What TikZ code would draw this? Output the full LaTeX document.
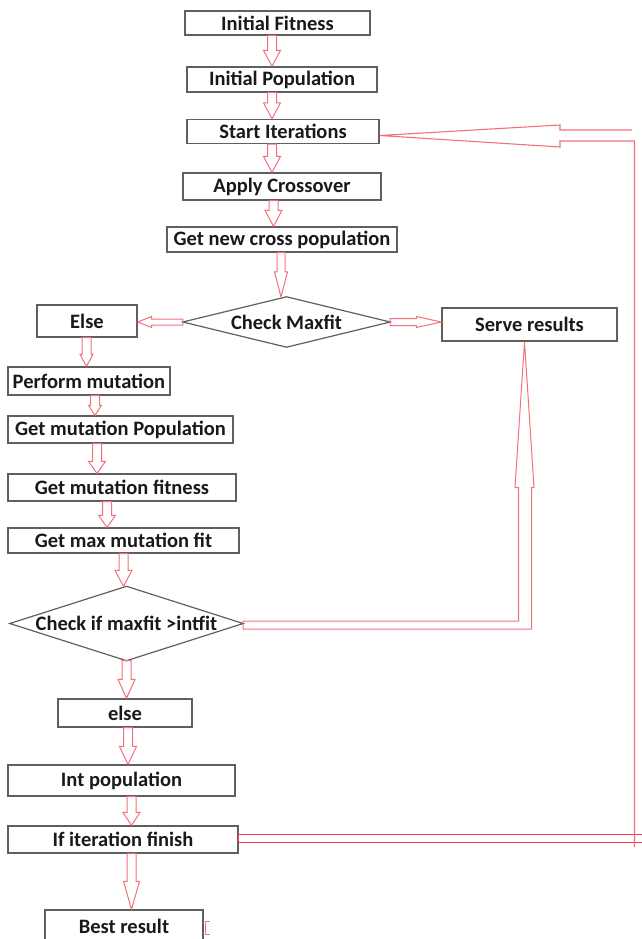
\documentclass[tikz,border=0pt]{standalone}
\usepackage{fontspec}
\setmainfont{Carlito}
\usetikzlibrary{calc}
\definecolor{boxgray}{RGB}{95,95,95}
\definecolor{arrred}{RGB}{242,112,122}
\definecolor{loopred}{RGB}{236,62,78}
\definecolor{txt}{RGB}{25,25,25}
\tikzset{
  arrsw/.store in=\arrsw, arrhw/.store in=\arrhw, arrhl/.store in=\arrhl,
  arrsw=4.5pt, arrhw=8.5pt, arrhl=16pt,
  blk/.style={draw=arrred, line width=1pt, line join=miter},
  box/.style={draw=boxgray, line width=1.3pt, inner sep=0pt, text=txt,
    font=\bfseries\fontsize{20.5}{23}\selectfont},
  dnode/.style={inner sep=0pt, text=txt, font=\bfseries\fontsize{20.5}{23}\selectfont},
  dline/.style={draw=boxgray, line width=1.2pt, line join=miter}
}
% vertical block arrow: start point, target (only its y is used)
\newcommand{\dnarrow}[3][]{%
  \path[blk,#1] let \p1=(#2), \p2=(#3) in
    (\x1-\arrsw,\y1) -- (\x1-\arrsw,\y2+\arrhl) -- (\x1-\arrhw,\y2+\arrhl) -- (\x1,\y2)
    -- (\x1+\arrhw,\y2+\arrhl) -- (\x1+\arrsw,\y2+\arrhl) -- (\x1+\arrsw,\y1) -- cycle;}
% horizontal block arrows: start point, target (only its x is used)
\newcommand{\lfarrow}[3][]{%
  \path[blk,#1] let \p1=(#2), \p2=(#3) in
    (\x1,\y1+\arrsw) -- (\x2+\arrhl,\y1+\arrsw) -- (\x2+\arrhl,\y1+\arrhw) -- (\x2,\y1)
    -- (\x2+\arrhl,\y1-\arrhw) -- (\x2+\arrhl,\y1-\arrsw) -- (\x1,\y1-\arrsw) -- cycle;}
\newcommand{\rtarrow}[3][]{%
  \path[blk,#1] let \p1=(#2), \p2=(#3) in
    (\x1,\y1+\arrsw) -- (\x2-\arrhl,\y1+\arrsw) -- (\x2-\arrhl,\y1+\arrhw) -- (\x2,\y1)
    -- (\x2-\arrhl,\y1-\arrhw) -- (\x2-\arrhl,\y1-\arrsw) -- (\x1,\y1-\arrsw) -- cycle;}
\begin{document}
\begin{tikzpicture}[x=1pt,y=-1pt]
\useasboundingbox (0,0) rectangle (641,939);

% boxes
\node[box, minimum width=185pt, minimum height=24pt] (fit) at (277.5,23) {Initial Fitness};
\node[box, minimum width=190pt, minimum height=25pt] (pop) at (282,79.5) {Initial Population};
\node[box, minimum width=192pt, minimum height=24pt] (start) at (283,131.5) {Start Iterations};
\node[box, minimum width=198pt, minimum height=27pt] (cross) at (282,186.5) {Apply Crossover};
\node[box, minimum width=230pt, minimum height=25pt] (ncross) at (282,239.5) {Get new cross population};
\node[dnode, minimum width=207pt, minimum height=50pt] (cm) at (286.5,322) {Check Maxfit};
\draw[dline] (cm.west) -- (cm.north) -- (cm.east) -- (cm.south) -- cycle;
\node[box, minimum width=100pt, minimum height=32pt] (else1) at (87,321) {Else};
\node[box, minimum width=175pt, minimum height=33pt] (serve) at (529.5,324.5) {Serve results};
\node[box, minimum width=162pt, minimum height=28pt] (perf) at (89,381) {Perform mutation};
\node[box, minimum width=225pt, minimum height=27pt] (mpop) at (120.5,429.5) {Get mutation Population};
\node[box, minimum width=228pt, minimum height=27pt] (mfit) at (122,487.5) {Get mutation fitness};
\node[box, minimum width=231pt, minimum height=25pt] (mmax) at (123.5,540.5) {Get max mutation fit};
\node[dnode, minimum width=233pt, minimum height=74pt] (cmut) at (126.5,623.5) {Check if maxfit >intfit};
\draw[dline] (cmut.west) -- (cmut.north) -- (cmut.east) -- (cmut.south) -- cycle;
\node[box, minimum width=134pt, minimum height=28pt] (else2) at (125,713) {else};
\node[box, minimum width=227pt, minimum height=31pt] (ipop) at (121.5,780.5) {Int population};
\node[box, minimum width=230pt, minimum height=27pt] (ifit) at (123,839.5) {If iteration finish};
\node[box, minimum width=158pt, minimum height=32pt] (best) at (124,926) {Best result};

% vertical block arrows
\dnarrow{$(fit.south)+(-5.5,0)$}{pop.north}
\dnarrow{$(pop.south)+(-10,0)$}{start.north}
\dnarrow{$(start.south)+(-11,0)$}{cross.north}
\dnarrow{$(cross.south)+(-8.5,0)$}{ncross.north}
\dnarrow[arrsw=4pt, arrhw=6.5pt, arrhl=25pt]{$(ncross.south)+(-1,0)$}{cm.north}
\dnarrow[arrsw=4.5pt, arrhw=6.5pt, arrhl=12pt]{$(else1.south)+(-0.5,0)$}{perf.north}
\dnarrow[arrhl=10pt, arrhw=6.5pt]{$(perf.south)+(6,0)$}{mpop.north}
\dnarrow[arrhl=12pt]{$(mpop.south)+(-23.5,0)$}{mfit.north}
\dnarrow[arrhl=12pt]{$(mfit.south)+(-15,0)$}{mmax.north}
\dnarrow[arrhl=16pt]{$(mmax.south)+(0,0)$}{cmut.north}
\dnarrow[arrhl=19pt]{$(cmut.south)+(0,0)$}{else2.north}
\dnarrow[arrhl=18pt]{$(else2.south)+(3,0)$}{ipop.north}
\dnarrow[arrhl=13pt]{$(ipop.south)+(10,0)$}{ifit.north}
\dnarrow[arrhl=28pt, arrhw=8pt]{$(ifit.south)+(8.5,0)$}{best.north}

% horizontal block arrows from Check Maxfit
\lfarrow[arrsw=3pt, arrhw=5.5pt, arrhl=14pt]{cm.west}{else1.east}
\rtarrow[arrsw=3.5pt, arrhw=5.5pt, arrhl=25pt]{cm.east}{serve.west}

% Check if maxfit >intfit  -> Serve results
\path[blk] let \p1=(cmut.east), \p2=($(serve.south)+(-5,0)$) in
  (\x1,\y1+2.5pt) -- (\x2-6pt,\y1+2.5pt) -- (\x2-6pt,\y2-146pt) -- (\x2-9.5pt,\y2-146pt)
  -- (\x2,\y2) -- (\x2+9.5pt,\y2-146pt) -- (\x2+7pt,\y2-146pt) -- (\x2+7pt,\y1-5.5pt)
  -- (\x1,\y1-5.5pt) -- cycle;

% If iteration finish -> back to Start Iterations
\draw[loopred, line width=1.2pt] ($(ifit.east)+(403,-5)$) -- ($(ifit.east)+(0,-5)$)
  -- ($(ifit.east)+(0,3)$) -- ($(ifit.east)+(403,3)$);
\draw[arrred, line width=1.1pt] (634.5,847) -- (634.5,141) -- (560,141) -- (560,147)
  -- ($(start.east)+(0,4)$) -- (560,125) -- (560,130) -- (632,130);

% cut-off mark at Best result
\draw[arrred, line width=1pt] (210,921) -- (205,921) -- (205,934) -- (210,934);
\end{tikzpicture}
\end{document}
